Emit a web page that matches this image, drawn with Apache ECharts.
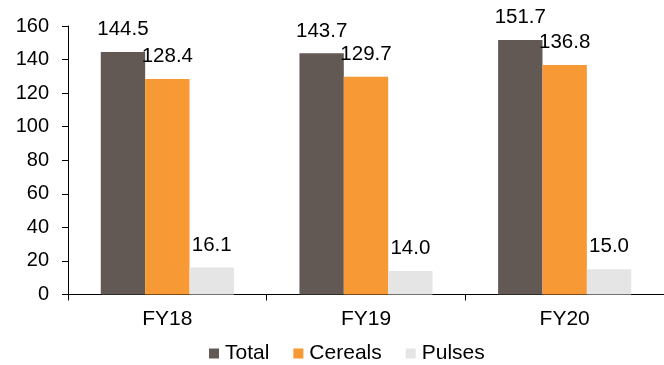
<!DOCTYPE html>
<html>
<head>
<meta charset="utf-8">
<script src="https://cdn.jsdelivr.net/npm/echarts@6/dist/echarts.min.js"></script>
<style>
  html, body { margin: 0; padding: 0; background: #fff; }
  #chart { width: 664px; height: 365px; }
</style>
</head>
<body>
<div id="chart"></div>
<script>
// Production by fiscal year
const categories = ['FY18', 'FY19', 'FY20'];
const totalValues = [144.5, 143.7, 151.7];
const cerealValues = [128.4, 129.7, 136.8];
const pulseValues = [16.1, 14.0, 15.0];
const yTicks = [0, 20, 40, 60, 80, 100, 120, 140, 160];

const FONT = '"Liberation Sans", Arial, sans-serif';

const valueLabel = {
  show: true,
  position: 'top',
  distance: 12,
  color: '#000',
  fontFamily: FONT,
  fontSize: 20.5,
  formatter: p => p.value.toFixed(1)
};

function barSeries(name, data, color) {
  return {
    name: name,
    type: 'bar',
    data: data,
    barGap: '0%',
    barCategoryGap: '33%',
    itemStyle: { color: color },
    label: valueLabel
  };
}

const chart = echarts.init(document.getElementById('chart'), null, { renderer: 'canvas' });
chart.setOption({
  animation: false,
  grid: { left: 68, right: -1, top: 26, bottom: 70.5, containLabel: false },
  legend: {
    bottom: 1,
    left: 209,
    padding: 0,
    itemWidth: 10,
    itemHeight: 10,
    itemGap: 24,
    icon: 'rect',
    textStyle: { fontFamily: FONT, fontSize: 21, color: '#000', padding: [0, 0, 0, 1] },
    data: ['Total', 'Cereals', 'Pulses']
  },
  xAxis: {
    type: 'category',
    data: categories,
    axisLine: { lineStyle: { color: '#000', width: 1 } },
    axisTick: { show: true, length: 6, lineStyle: { color: '#000' } },
    axisLabel: { color: '#000', fontFamily: FONT, fontSize: 21, margin: 14 }
  },
  yAxis: {
    type: 'value',
    min: yTicks[0],
    max: yTicks[yTicks.length - 1],
    interval: yTicks[1] - yTicks[0],
    axisLine: { show: true, lineStyle: { color: '#000', width: 1 } },
    axisTick: { show: true, length: 6, inside: false, lineStyle: { color: '#000' } },
    splitLine: { show: false },
    axisLabel: { color: '#000', fontFamily: FONT, fontSize: 20, margin: 19 }
  },
  series: [
    barSeries('Total', totalValues, '#625955'),
    barSeries('Cereals', cerealValues, '#F79935'),
    barSeries('Pulses', pulseValues, '#E5E5E5')
  ]
});
</script>
</body>
</html>
